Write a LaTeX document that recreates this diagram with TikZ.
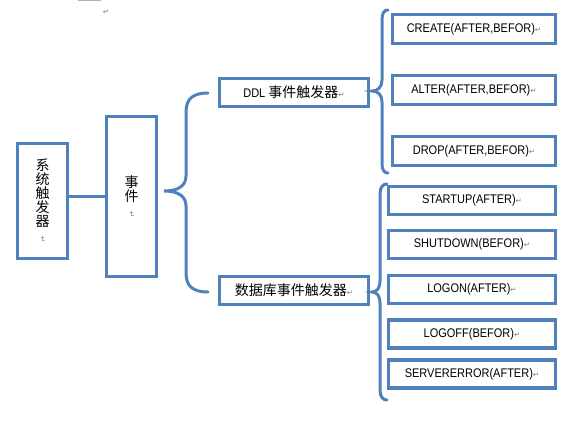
\documentclass[tikz,border=0pt]{standalone}
\usepackage{fontspec}
\setmainfont{Liberation Sans}
\newfontfamily\latf[FakeStretch=0.88]{Liberation Sans}
\newfontfamily\cjk{Noto Sans CJK SC}
\newfontfamily\symf{DejaVu Sans}
\definecolor{bx}{RGB}{79,129,189}
\newcommand\rmk{{\symf\fontsize{7.5}{7.5}\selectfont\textcolor{gray}{↵}}}
\newcommand\rmkr{\rotatebox{-90}{\rmk}}
\begin{document}
\begin{tikzpicture}[x=1pt,y=-1pt,
  box/.style={draw=bx, line width=3.2pt, inner sep=0pt, fill=white},
  lat/.style={font=\latf\fontsize{12.5}{14}\selectfont},
  zh/.style={font=\cjk\fontsize{14}{14}\selectfont},
  brc/.style={draw=bx, line width=3pt, line cap=round}]
\useasboundingbox (0,0) rectangle (588,423);
% top artifacts
\draw[gray!60, line width=1pt] (78,0.5) -- (101,0.5);
\node[inner sep=0pt] (tm) at (106,12) {\rmk};
% left boxes
\node[box, minimum width=50pt, minimum height=115pt, zh, align=center] (sys) at (42.5,201)
  {系\\[0pt]统\\[0pt]触\\[0pt]发\\[0pt]器\\[-4pt]\rmkr};
\node[box, minimum width=50pt, minimum height=160pt, zh, align=center] (ev) at (131.5,196.5)
  {事\\[0pt]件\\[-4pt]\rmkr};
\coordinate (j) at (87,196);
\draw[draw=bx, line width=3pt] (sys.east |- j) -- (ev.west |- j);
% middle boxes
\node[box, minimum width=149pt, minimum height=28pt] (ddl) at (294,92.5)
  {\latf\fontsize{12.5}{14}\selectfont DDL {\cjk\fontsize{14}{14}\selectfont 事件触发器}\rmk};
\node[box, minimum width=149pt, minimum height=28pt] (db) at (294,290.5)
  {{\cjk\fontsize{14}{14}\selectfont 数据库事件触发器}\rmk};
% right boxes
\node[box, lat, minimum width=163pt, minimum height=29pt] (cr) at (474,29) {CREATE(AFTER,BEFOR)\rmk};
\node[box, lat, minimum width=163pt, minimum height=29pt] (al) at (474,90) {ALTER(AFTER,BEFOR)\rmk};
\node[box, lat, minimum width=163pt, minimum height=29pt] (dr) at (474,151) {DROP(AFTER,BEFOR)\rmk};
\node[box, lat, minimum width=167pt, minimum height=28pt] (st) at (472,200.5) {STARTUP(AFTER)\rmk};
\node[box, lat, minimum width=167pt, minimum height=28pt] (sh) at (472,244.5) {SHUTDOWN(BEFOR)\rmk};
\node[box, lat, minimum width=167pt, minimum height=28pt] (lon) at (472,289.5) {LOGON(AFTER)\rmk};
\node[box, lat, minimum width=167pt, minimum height=28pt] (lof) at (472,334) {LOGOFF(BEFOR)\rmk};
\node[box, lat, minimum width=167pt, minimum height=28pt] (se) at (472,374) {SERVERERROR(AFTER)\rmk};
% braces
\draw[brc] (208,93) .. controls (194,93) and (186,98) .. (186,112) -- (186,176)
  .. controls (186,186) and (178,191) .. (164,191)
  .. controls (178,191) and (186,196) .. (186,206) -- (186,273)
  .. controls (186,287) and (194,292) .. (208,292);
\draw[brc] (388,10) .. controls (384,10) and (382,13) .. (382,20) -- (382,80)
  .. controls (382,87) and (378,91) .. (372,91)
  .. controls (378,91) and (382,95) .. (382,102) -- (382,163)
  .. controls (382,170) and (384,173) .. (388,173);
\draw[brc] (387,184) .. controls (383,184) and (380,187) .. (380,194) -- (380,281)
  .. controls (380,288) and (377,292) .. (372,292)
  .. controls (377,292) and (380,296) .. (380,303) -- (380,390)
  .. controls (380,397) and (383,400) .. (387,400);
\end{tikzpicture}
\end{document}
